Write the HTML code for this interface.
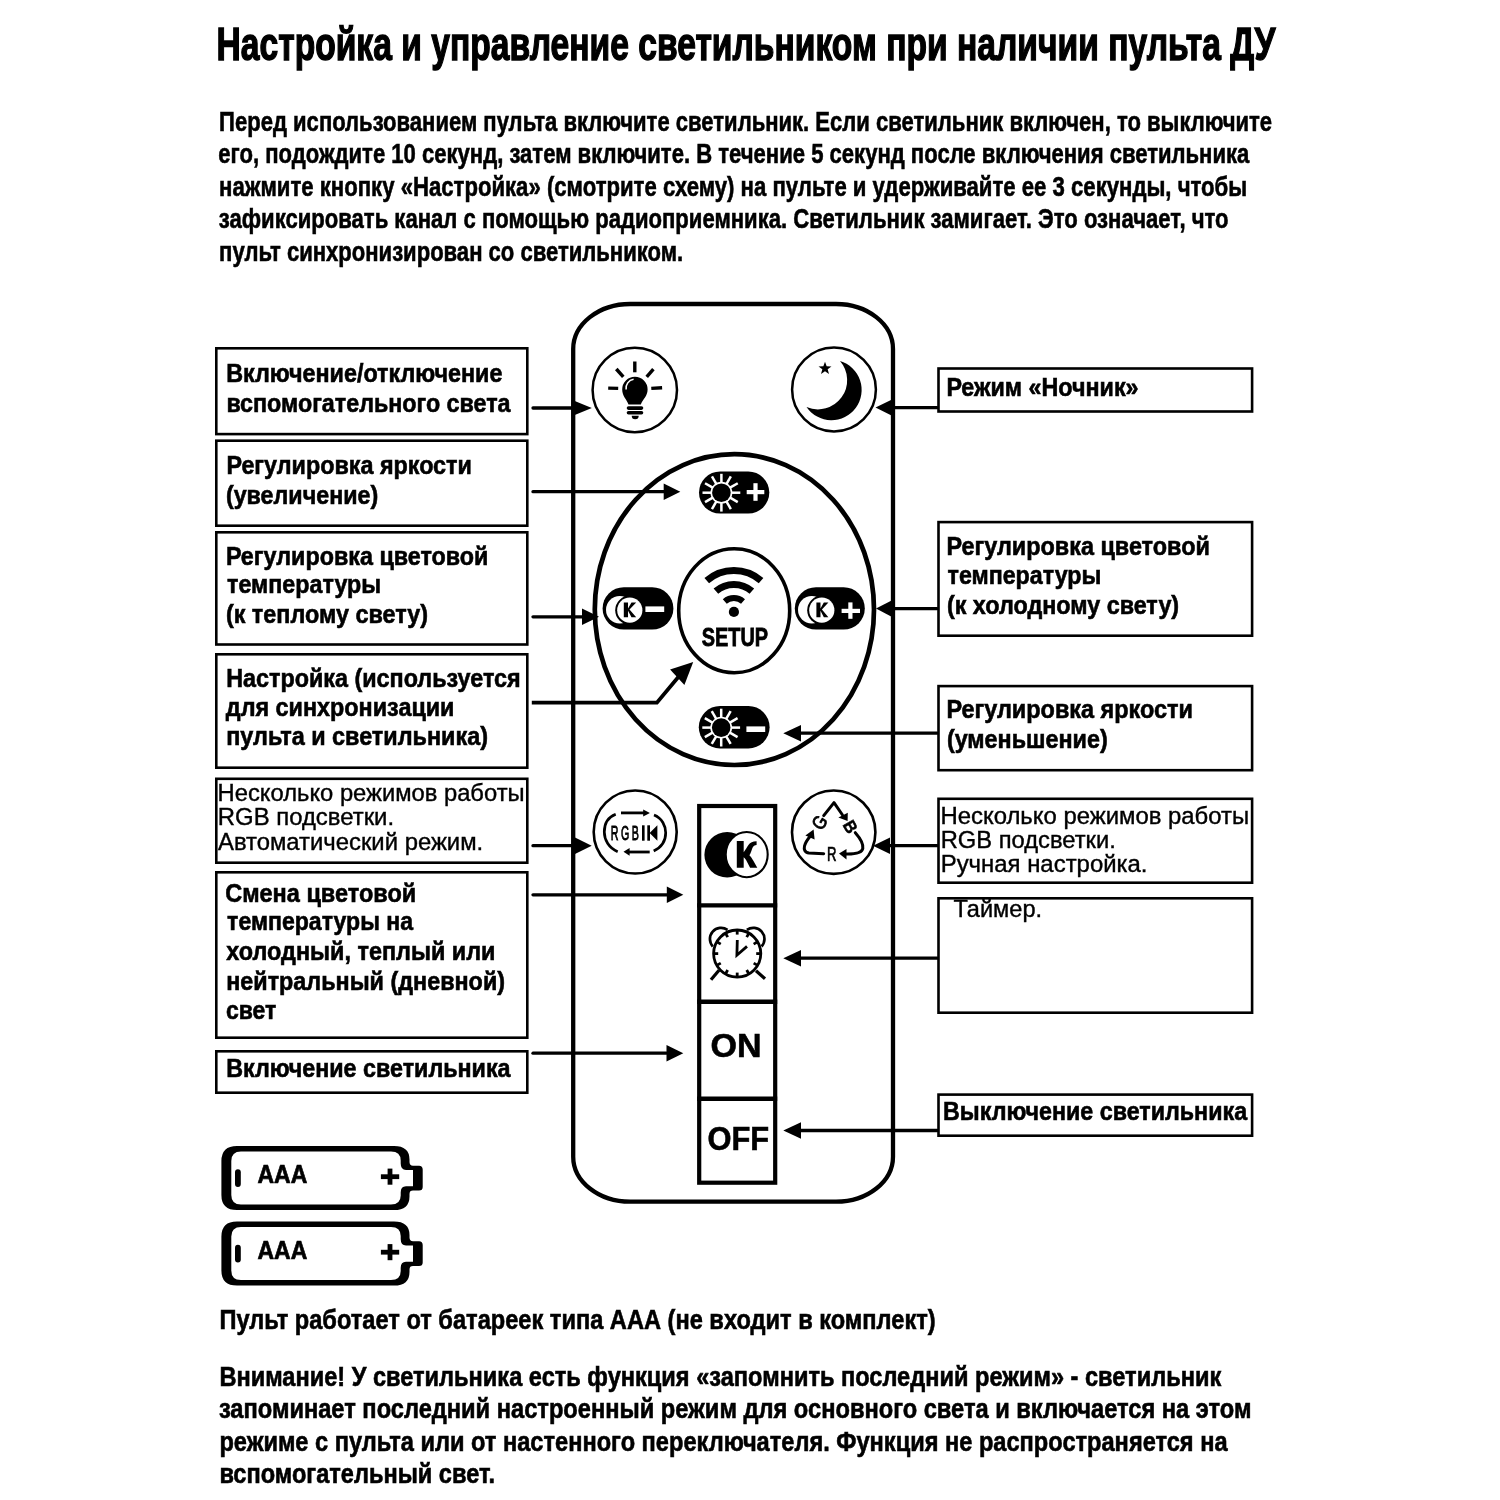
<!DOCTYPE html>
<html><head><meta charset="utf-8"><style>
html,body{margin:0;padding:0;background:#fff;}
svg{display:block;will-change:transform;}
text{font-family:"Liberation Sans",sans-serif;fill:#000;white-space:pre;}
</style></head><body>
<svg width="1500" height="1500" viewBox="0 0 1500 1500">
<rect x="0" y="0" width="1500" height="1500" fill="#fff"/>
<path d="M630.20,304.00 H836.00 A57,45 0 0 1 893.00,349.00 V1156.70 A57,45 0 0 1 836.00,1201.70 H630.20 A57,45 0 0 1 573.20,1156.70 V349.00 A57,45 0 0 1 630.20,304.00 Z" fill="none" stroke="#000" stroke-width="4.3"/>
<rect x="216.30" y="348.30" width="311.00" height="85.80" fill="none" stroke="#000" stroke-width="2.6"/>
<rect x="216.30" y="440.70" width="311.00" height="85.00" fill="none" stroke="#000" stroke-width="2.6"/>
<rect x="216.30" y="532.30" width="311.00" height="112.20" fill="none" stroke="#000" stroke-width="2.6"/>
<rect x="216.30" y="654.30" width="311.00" height="113.40" fill="none" stroke="#000" stroke-width="2.6"/>
<rect x="216.30" y="778.80" width="311.00" height="83.90" fill="none" stroke="#000" stroke-width="2.6"/>
<rect x="216.30" y="872.30" width="311.00" height="165.40" fill="none" stroke="#000" stroke-width="2.6"/>
<rect x="216.30" y="1051.30" width="311.00" height="41.40" fill="none" stroke="#000" stroke-width="2.6"/>
<rect x="938.50" y="368.50" width="313.60" height="43.00" fill="none" stroke="#000" stroke-width="2.6"/>
<rect x="938.50" y="522.10" width="313.60" height="113.60" fill="none" stroke="#000" stroke-width="2.6"/>
<rect x="938.50" y="686.10" width="313.60" height="84.10" fill="none" stroke="#000" stroke-width="2.6"/>
<rect x="938.50" y="798.80" width="313.60" height="83.90" fill="none" stroke="#000" stroke-width="2.6"/>
<rect x="938.50" y="898.30" width="313.60" height="114.40" fill="none" stroke="#000" stroke-width="2.6"/>
<rect x="938.50" y="1094.60" width="313.60" height="41.10" fill="none" stroke="#000" stroke-width="2.6"/>
<circle cx="634.8" cy="390.0" r="42.2" fill="none" stroke="#000" stroke-width="2.5"/>
<circle cx="834.0" cy="389.5" r="41.9" fill="none" stroke="#000" stroke-width="2.5"/>
<circle cx="635.2" cy="832.0" r="41.5" fill="none" stroke="#000" stroke-width="2.6"/>
<circle cx="833.7" cy="832.2" r="41.7" fill="none" stroke="#000" stroke-width="2.6"/>
<ellipse cx="734.4" cy="609.6" rx="139.6" ry="155.4" fill="none" stroke="#000" stroke-width="4.7"/>
<ellipse cx="734.2" cy="610.7" rx="55.5" ry="62.0" fill="none" stroke="#000" stroke-width="3.6"/>
<rect x="699.00" y="471.50" width="70.30" height="42.10" rx="21.05" ry="21.05" fill="#000"/>
<circle cx="721.40" cy="492.70" r="10.90" fill="#fff"/><circle cx="721.40" cy="492.70" r="9.30" fill="#000"/><line x1="721.40" y1="482.70" x2="721.40" y2="473.80" stroke="#fff" stroke-width="2.5"/><line x1="726.40" y1="484.04" x2="730.85" y2="476.33" stroke="#fff" stroke-width="2.5"/><line x1="730.06" y1="487.70" x2="737.77" y2="483.25" stroke="#fff" stroke-width="2.5"/><line x1="731.40" y1="492.70" x2="740.30" y2="492.70" stroke="#fff" stroke-width="2.5"/><line x1="730.06" y1="497.70" x2="737.77" y2="502.15" stroke="#fff" stroke-width="2.5"/><line x1="726.40" y1="501.36" x2="730.85" y2="509.07" stroke="#fff" stroke-width="2.5"/><line x1="721.40" y1="502.70" x2="721.40" y2="511.60" stroke="#fff" stroke-width="2.5"/><line x1="716.40" y1="501.36" x2="711.95" y2="509.07" stroke="#fff" stroke-width="2.5"/><line x1="712.74" y1="497.70" x2="705.03" y2="502.15" stroke="#fff" stroke-width="2.5"/><line x1="711.40" y1="492.70" x2="702.50" y2="492.70" stroke="#fff" stroke-width="2.5"/><line x1="712.74" y1="487.70" x2="705.03" y2="483.25" stroke="#fff" stroke-width="2.5"/><line x1="716.40" y1="484.04" x2="711.95" y2="476.33" stroke="#fff" stroke-width="2.5"/>
<rect x="746.7" y="490.0" width="17.6" height="4.2" fill="#fff"/><rect x="753.4" y="483.2" width="4.2" height="17.6" fill="#fff"/>
<rect x="698.80" y="706.00" width="70.80" height="42.40" rx="21.20" ry="21.20" fill="#000"/>
<circle cx="721.20" cy="727.60" r="10.90" fill="#fff"/><circle cx="721.20" cy="727.60" r="9.30" fill="#000"/><line x1="721.20" y1="717.60" x2="721.20" y2="708.70" stroke="#fff" stroke-width="2.5"/><line x1="726.20" y1="718.94" x2="730.65" y2="711.23" stroke="#fff" stroke-width="2.5"/><line x1="729.86" y1="722.60" x2="737.57" y2="718.15" stroke="#fff" stroke-width="2.5"/><line x1="731.20" y1="727.60" x2="740.10" y2="727.60" stroke="#fff" stroke-width="2.5"/><line x1="729.86" y1="732.60" x2="737.57" y2="737.05" stroke="#fff" stroke-width="2.5"/><line x1="726.20" y1="736.26" x2="730.65" y2="743.97" stroke="#fff" stroke-width="2.5"/><line x1="721.20" y1="737.60" x2="721.20" y2="746.50" stroke="#fff" stroke-width="2.5"/><line x1="716.20" y1="736.26" x2="711.75" y2="743.97" stroke="#fff" stroke-width="2.5"/><line x1="712.54" y1="732.60" x2="704.83" y2="737.05" stroke="#fff" stroke-width="2.5"/><line x1="711.20" y1="727.60" x2="702.30" y2="727.60" stroke="#fff" stroke-width="2.5"/><line x1="712.54" y1="722.60" x2="704.83" y2="718.15" stroke="#fff" stroke-width="2.5"/><line x1="716.20" y1="718.94" x2="711.75" y2="711.23" stroke="#fff" stroke-width="2.5"/>
<rect x="746.4" y="726.4" width="18.8" height="5.6" fill="#fff"/>
<rect x="602.60" y="587.20" width="70.80" height="42.40" rx="21.20" ry="21.20" fill="#000"/>
<circle cx="619.80" cy="609.80" r="13.8" fill="#fff"/><circle cx="629.80" cy="610.20" r="14.6" fill="#000"/><circle cx="629.80" cy="610.20" r="12.6" fill="#fff"/>
<polygon fill="#000" points="623.80,602.40 628.02,602.40 628.02,608.62 631.49,602.40 636.20,602.40 629.50,609.50 636.20,617.20 631.49,617.20 628.02,610.69 628.02,617.20 623.80,617.20"/>
<rect x="645.4" y="606.4" width="18.8" height="5.6" fill="#fff"/>
<rect x="794.80" y="587.20" width="70.00" height="42.40" rx="21.20" ry="21.20" fill="#000"/>
<circle cx="811.80" cy="609.80" r="13.8" fill="#fff"/><circle cx="821.80" cy="610.20" r="14.6" fill="#000"/><circle cx="821.80" cy="610.20" r="12.6" fill="#fff"/>
<polygon fill="#000" points="816.40,602.40 820.48,602.40 820.48,608.62 823.84,602.40 828.40,602.40 821.92,609.50 828.40,617.20 823.84,617.20 820.48,610.69 820.48,617.20 816.40,617.20"/>
<rect x="841.6" y="608.8" width="18.4" height="4.2" fill="#fff"/><rect x="848.3" y="602.4" width="4.2" height="16.4" fill="#fff"/>
<circle cx="733.9" cy="611.9" r="5.1" fill="#000"/>
<path d="M724.78,601.41 A13.9,13.9 0 0 1 743.02,601.41" fill="none" stroke="#000" stroke-width="6.0"/>
<path d="M715.92,591.22 A27.4,27.4 0 0 1 751.88,591.22" fill="none" stroke="#000" stroke-width="7.0"/>
<path d="M706.74,580.66 A41.4,41.4 0 0 1 761.06,580.66" fill="none" stroke="#000" stroke-width="7.0"/>
<rect x="699.2" y="806.0" width="76.0" height="376.7" fill="none" stroke="#000" stroke-width="4.2"/>
<line x1="697.2" y1="905.4" x2="777.2" y2="905.4" stroke="#000" stroke-width="4.4"/>
<line x1="697.2" y1="1001.8" x2="777.2" y2="1001.8" stroke="#000" stroke-width="4.4"/>
<line x1="697.2" y1="1098.7" x2="777.2" y2="1098.7" stroke="#000" stroke-width="4.4"/>
<circle cx="727.2" cy="854.8" r="22.8" fill="#000"/>
<ellipse cx="746.7" cy="854.6" rx="21.0" ry="22.6" fill="#fff" stroke="#000" stroke-width="2.1"/>
<path d="M736.8,841 H743.7 V852.3 C745.6,849.8 747,847 748.6,844.8 C750.2,842.6 752.6,841.2 756.6,841.2 V844.9 C754.6,844.9 753.3,846 752.4,848 C751.6,850 751,853.2 749.4,855.2 C751,856.6 752.2,858.6 753.2,860.6 L757.3,867.7 H750.1 L746.2,860.3 C745.4,858.8 744.6,857.8 743.7,857.3 V867.7 H736.8 Z" fill="#000"/>
<circle cx="737.2" cy="953.6" r="23.6" fill="none" stroke="#000" stroke-width="2.8"/>
<line x1="737.20" y1="934.60" x2="737.20" y2="930.00" stroke="#000" stroke-width="2.8"/>
<line x1="746.70" y1="937.15" x2="749.00" y2="933.16" stroke="#000" stroke-width="2.8"/>
<line x1="753.65" y1="944.10" x2="757.64" y2="941.80" stroke="#000" stroke-width="2.8"/>
<line x1="756.20" y1="953.60" x2="760.80" y2="953.60" stroke="#000" stroke-width="2.8"/>
<line x1="753.65" y1="963.10" x2="757.64" y2="965.40" stroke="#000" stroke-width="2.8"/>
<line x1="746.70" y1="970.05" x2="749.00" y2="974.04" stroke="#000" stroke-width="2.8"/>
<line x1="737.20" y1="972.60" x2="737.20" y2="977.20" stroke="#000" stroke-width="2.8"/>
<line x1="727.70" y1="970.05" x2="725.40" y2="974.04" stroke="#000" stroke-width="2.8"/>
<line x1="720.75" y1="963.10" x2="716.76" y2="965.40" stroke="#000" stroke-width="2.8"/>
<line x1="718.20" y1="953.60" x2="713.60" y2="953.60" stroke="#000" stroke-width="2.8"/>
<line x1="720.75" y1="944.10" x2="716.76" y2="941.80" stroke="#000" stroke-width="2.8"/>
<line x1="727.70" y1="937.15" x2="725.40" y2="933.16" stroke="#000" stroke-width="2.8"/>
<polyline points="737.3,940 736.9,955.2 747,946.4" fill="none" stroke="#000" stroke-width="2.8"/>
<path d="M712.8,946.5 A11.2,11.2 0 0 1 727.5,929.8" fill="none" stroke="#000" stroke-width="2.7"/>
<path d="M746.9,929.8 A11.2,11.2 0 0 1 761.6,946.5" fill="none" stroke="#000" stroke-width="2.7"/>
<line x1="719" y1="970.2" x2="711" y2="979.8" stroke="#000" stroke-width="3.2"/>
<line x1="756" y1="970.8" x2="765" y2="978.8" stroke="#000" stroke-width="3.2"/>
<path d="M622.2,389.5 A12.7,12.7 0 1 1 647.6,389.5 C647.6,396 643,399 640.8,404.5 L628.5,404.5 C626.5,399 622.2,396 622.2,389.5 Z" fill="#000"/>
<path d="M626.1,389.5 A9,9 0 0 1 633.6,379.3" fill="none" stroke="#fff" stroke-width="1.6"/>
<line x1="628.5" y1="408.1" x2="641.5" y2="408.1" stroke="#000" stroke-width="3.6" stroke-linecap="round"/>
<line x1="628.5" y1="412.8" x2="641.5" y2="412.8" stroke="#000" stroke-width="3.6" stroke-linecap="round"/>
<path d="M631.7,415.7 H638.7 A3.5,3.5 0 0 1 631.7,415.7 Z" fill="#000"/>
<line x1="634.8" y1="361.5" x2="634.8" y2="372.3" stroke="#000" stroke-width="3.4"/>
<line x1="616.3" y1="369.0" x2="623.3" y2="376.9" stroke="#000" stroke-width="3.4"/>
<line x1="653.4" y1="369.2" x2="646.7" y2="376.9" stroke="#000" stroke-width="3.4"/>
<line x1="608.2" y1="388.1" x2="618.2" y2="388.4" stroke="#000" stroke-width="3.4"/>
<line x1="651.3" y1="388.4" x2="662.1" y2="387.7" stroke="#000" stroke-width="3.4"/>
<path d="M840,361 A30.2,30.2 0 1 1 806.5,407 A29.2,29.2 0 0 0 840,361 Z" fill="#000"/>
<polygon fill="#000" points="825.00,361.70 826.65,366.23 831.47,366.40 827.66,369.37 829.00,374.00 825.00,371.30 821.00,374.00 822.34,369.37 818.53,366.40 823.35,366.23"/>
<line x1="533.00" y1="408.00" x2="571.70" y2="408.00" stroke="#000" stroke-width="3.3" stroke-linecap="round"/><polygon points="591.80,408.00 571.70,399.80 571.70,416.20" fill="#000"/>
<line x1="533.00" y1="491.70" x2="663.70" y2="491.70" stroke="#000" stroke-width="3.3" stroke-linecap="round"/><polygon points="680.30,491.70 663.70,483.50 663.70,499.90" fill="#000"/>
<line x1="533.00" y1="616.80" x2="582.00" y2="616.80" stroke="#000" stroke-width="3.3" stroke-linecap="round"/><polygon points="599.00,616.80 582.00,608.60 582.00,625.00" fill="#000"/>
<line x1="533.00" y1="845.70" x2="575.00" y2="845.70" stroke="#000" stroke-width="3.3" stroke-linecap="round"/><polygon points="591.70,845.70 575.00,837.50 575.00,853.90" fill="#000"/>
<line x1="533.00" y1="894.80" x2="666.80" y2="894.80" stroke="#000" stroke-width="3.3" stroke-linecap="round"/><polygon points="683.30,894.80 666.80,886.60 666.80,903.00" fill="#000"/>
<line x1="533.00" y1="1053.20" x2="666.50" y2="1053.20" stroke="#000" stroke-width="3.3" stroke-linecap="round"/><polygon points="683.30,1053.20 666.50,1045.00 666.50,1061.40" fill="#000"/>
<polyline points="531.8,702.6 656.9,702.6 680,675" fill="none" stroke="#000" stroke-width="3.8"/>
<polygon points="693.2,661.9 670.1,669.6 684.4,685" fill="#000"/>
<line x1="937.20" y1="407.60" x2="892.00" y2="407.60" stroke="#000" stroke-width="3.3" stroke-linecap="round"/><polygon points="875.50,407.60 892.00,399.40 892.00,415.80" fill="#000"/>
<line x1="937.20" y1="608.60" x2="891.60" y2="608.60" stroke="#000" stroke-width="3.3" stroke-linecap="round"/><polygon points="876.00,608.60 891.60,600.40 891.60,616.80" fill="#000"/>
<line x1="937.20" y1="733.20" x2="801.00" y2="733.20" stroke="#000" stroke-width="3.3" stroke-linecap="round"/><polygon points="783.30,733.20 801.00,725.00 801.00,741.40" fill="#000"/>
<line x1="937.20" y1="845.70" x2="890.00" y2="845.70" stroke="#000" stroke-width="3.3" stroke-linecap="round"/><polygon points="873.00,845.70 890.00,837.50 890.00,853.90" fill="#000"/>
<line x1="937.20" y1="958.20" x2="801.00" y2="958.20" stroke="#000" stroke-width="3.3" stroke-linecap="round"/><polygon points="783.30,958.20 801.00,950.00 801.00,966.40" fill="#000"/>
<line x1="937.20" y1="1130.50" x2="801.00" y2="1130.50" stroke="#000" stroke-width="3.3" stroke-linecap="round"/><polygon points="783.30,1130.50 801.00,1122.30 801.00,1138.70" fill="#000"/>
<path d="M615.7,814.3 C606,818 604.3,826 604.3,832 C604.3,840 609,848 617.7,851.7" fill="none" stroke="#000" stroke-width="2.7"/>
<path d="M654,815 C662,818 665.7,826 665.7,832.7 C665.7,840 662,847 653.7,851" fill="none" stroke="#000" stroke-width="2.7"/>
<line x1="621" y1="812.9" x2="644" y2="812.9" stroke="#000" stroke-width="2.8"/>
<polygon points="649.9,813 643.2,809.6 643.2,816.5" fill="#000"/>
<line x1="629" y1="852" x2="649.7" y2="852" stroke="#000" stroke-width="2.8"/>
<polygon points="623.5,851.8 629.6,847.9 629.6,855.7" fill="#000"/>
<g transform="translate(610.8,839.6) scale(0.52,1)"><text x="0 19.8 40.2" y="0" font-size="20.5" font-weight="normal" stroke="#000" stroke-width="0.9">RGB</text></g>
<rect x="642" y="825.3" width="2.6" height="15.4" fill="#000"/>
<rect x="647.3" y="825.3" width="2.7" height="15.4" fill="#000"/>
<polygon points="649.6,833 657.4,825.3 657.4,840.7" fill="#000"/>
<polyline points="823.7,815.6 834,802.6 842.5,815" fill="none" stroke="#000" stroke-width="3.0" stroke-linejoin="round" stroke-linecap="round"/>
<polygon points="847.6,821 838.4,817.6 847.8,812.8" fill="#000"/>
<path d="M855.3,832.7 C860,838 863.5,844 862.8,848.5 C862,853 856,854.2 846,854" fill="none" stroke="#000" stroke-width="3.0" stroke-linecap="round"/>
<polygon points="839,853.6 846.5,849 846.5,859.4" fill="#000"/>
<path d="M823.7,853.7 L809,853 C804.5,852.6 803.8,849 804.5,846 C805.5,842 807.5,839.5 810,836.5" fill="none" stroke="#000" stroke-width="3.0" stroke-linecap="round"/>
<polygon points="813.6,829.4 805.4,835.6 814.6,839.4" fill="#000"/>
<text x="827" y="860.7" font-size="20" font-weight="normal" textLength="9.5" lengthAdjust="spacingAndGlyphs" stroke="#000" stroke-width="0.7">R</text>
<g transform="translate(819.4,822.4) rotate(-58)"><text x="-6.3" y="6.6" font-size="19" font-weight="normal" textLength="12.6" lengthAdjust="spacingAndGlyphs" stroke="#000" stroke-width="0.9">G</text></g>
<g transform="translate(850.5,826.6) rotate(60)"><text x="-5.8" y="6.3" font-size="17.5" font-weight="bold" textLength="11.6" lengthAdjust="spacingAndGlyphs" stroke="#000" stroke-width="0.5">B</text></g>
<g transform="translate(0,0)"><path d="M237,1145.9 H394 Q409.5,1145.9 409.5,1159.5 V1162 Q409.5,1165.7 413,1165.7 H419 Q422.7,1165.7 422.7,1169.5 V1187 Q422.7,1190.6 419,1190.6 H413 Q409.5,1190.6 409.5,1194 V1196.5 Q409.5,1210.1 394,1210.1 H237 Q221.4,1210.1 221.4,1195 V1161 Q221.4,1145.9 237,1145.9 Z M241,1151.4 H391 Q400.7,1151.4 400.7,1160.5 V1163.5 Q400.7,1170 406,1170 H413 V1186.2 H406 Q400.7,1186.2 400.7,1192.5 V1195.5 Q400.7,1204.5 391,1204.5 H241 Q231.3,1204.5 231.3,1195 V1161 Q231.3,1151.4 241,1151.4 Z" fill="#000" fill-rule="evenodd"/><rect x="235" y="1169.3" width="5.8" height="17.7" rx="2.9" fill="#000"/><rect x="380.9" y="1174.3" width="18.3" height="4.8" fill="#000"/><rect x="387.6" y="1168.6" width="4.8" height="16.1" fill="#000"/></g>
<g transform="translate(0,75.5)"><path d="M237,1145.9 H394 Q409.5,1145.9 409.5,1159.5 V1162 Q409.5,1165.7 413,1165.7 H419 Q422.7,1165.7 422.7,1169.5 V1187 Q422.7,1190.6 419,1190.6 H413 Q409.5,1190.6 409.5,1194 V1196.5 Q409.5,1210.1 394,1210.1 H237 Q221.4,1210.1 221.4,1195 V1161 Q221.4,1145.9 237,1145.9 Z M241,1151.4 H391 Q400.7,1151.4 400.7,1160.5 V1163.5 Q400.7,1170 406,1170 H413 V1186.2 H406 Q400.7,1186.2 400.7,1192.5 V1195.5 Q400.7,1204.5 391,1204.5 H241 Q231.3,1204.5 231.3,1195 V1161 Q231.3,1151.4 241,1151.4 Z" fill="#000" fill-rule="evenodd"/><rect x="235" y="1169.3" width="5.8" height="17.7" rx="2.9" fill="#000"/><rect x="380.9" y="1174.3" width="18.3" height="4.8" fill="#000"/><rect x="387.6" y="1168.6" width="4.8" height="16.1" fill="#000"/></g>
<text x="216.53" y="60.10" font-size="46.50" font-weight="bold" textLength="1058.99" lengthAdjust="spacingAndGlyphs" stroke="#000" stroke-width="1.4">Настройка и управление светильником при наличии пульта ДУ</text>
<text x="219.11" y="130.50" font-size="27.90" font-weight="bold" textLength="1052.99" lengthAdjust="spacingAndGlyphs" stroke="#000" stroke-width="0.6">Перед использованием пульта включите светильник. Если светильник включен, то выключите</text>
<text x="218.31" y="163.20" font-size="27.90" font-weight="bold" textLength="1031.00" lengthAdjust="spacingAndGlyphs" stroke="#000" stroke-width="0.6">его, подождите 10 секунд, затем включите. В течение 5 секунд после включения светильника</text>
<text x="219.11" y="195.50" font-size="27.90" font-weight="bold" textLength="1028.04" lengthAdjust="spacingAndGlyphs" stroke="#000" stroke-width="0.6">нажмите кнопку «Настройка» (смотрите схему) на пульте и удерживайте ее 3 секунды, чтобы</text>
<text x="218.80" y="228.30" font-size="27.90" font-weight="bold" textLength="1009.72" lengthAdjust="spacingAndGlyphs" stroke="#000" stroke-width="0.6">зафиксировать канал с помощью радиоприемника. Светильник замигает. Это означает, что</text>
<text x="219.11" y="260.70" font-size="27.90" font-weight="bold" textLength="463.97" lengthAdjust="spacingAndGlyphs" stroke="#000" stroke-width="0.6">пульт синхронизирован со светильником.</text>
<text x="226.19" y="381.90" font-size="25.80" font-weight="bold" textLength="276.22" lengthAdjust="spacingAndGlyphs" stroke="#000" stroke-width="0.6">Включение/отключение</text>
<text x="226.40" y="411.50" font-size="25.80" font-weight="bold" textLength="284.11" lengthAdjust="spacingAndGlyphs" stroke="#000" stroke-width="0.6">вспомогательного света</text>
<text x="226.40" y="473.90" font-size="25.80" font-weight="bold" textLength="245.48" lengthAdjust="spacingAndGlyphs" stroke="#000" stroke-width="0.6">Регулировка яркости</text>
<text x="225.90" y="504.20" font-size="25.80" font-weight="bold" textLength="152.34" lengthAdjust="spacingAndGlyphs" stroke="#000" stroke-width="0.6">(увеличение)</text>
<text x="225.90" y="564.90" font-size="25.80" font-weight="bold" textLength="262.58" lengthAdjust="spacingAndGlyphs" stroke="#000" stroke-width="0.6">Регулировка цветовой</text>
<text x="227.10" y="593.10" font-size="25.80" font-weight="bold" textLength="154.03" lengthAdjust="spacingAndGlyphs" stroke="#000" stroke-width="0.6">температуры</text>
<text x="225.89" y="623.20" font-size="25.80" font-weight="bold" textLength="202.14" lengthAdjust="spacingAndGlyphs" stroke="#000" stroke-width="0.6">(к теплому свету)</text>
<text x="226.20" y="687.00" font-size="25.80" font-weight="bold" textLength="294.46" lengthAdjust="spacingAndGlyphs" stroke="#000" stroke-width="0.6">Настройка (используется</text>
<text x="225.80" y="716.20" font-size="25.80" font-weight="bold" textLength="228.68" lengthAdjust="spacingAndGlyphs" stroke="#000" stroke-width="0.6">для синхронизации</text>
<text x="226.19" y="745.20" font-size="25.80" font-weight="bold" textLength="261.74" lengthAdjust="spacingAndGlyphs" stroke="#000" stroke-width="0.6">пульта и светильника)</text>
<text x="217.61" y="800.80" font-size="24.10" font-weight="normal" textLength="306.98" lengthAdjust="spacingAndGlyphs" stroke="#000" stroke-width="0.4">Несколько режимов работы</text>
<text x="217.81" y="825.10" font-size="24.10" font-weight="normal" textLength="176.27" lengthAdjust="spacingAndGlyphs" stroke="#000" stroke-width="0.4">RGB подсветки.</text>
<text x="218.00" y="849.50" font-size="24.10" font-weight="normal" textLength="265.18" lengthAdjust="spacingAndGlyphs" stroke="#000" stroke-width="0.4">Автоматический режим.</text>
<text x="225.19" y="901.70" font-size="25.80" font-weight="bold" textLength="190.99" lengthAdjust="spacingAndGlyphs" stroke="#000" stroke-width="0.6">Смена цветовой</text>
<text x="227.10" y="930.30" font-size="25.80" font-weight="bold" textLength="186.02" lengthAdjust="spacingAndGlyphs" stroke="#000" stroke-width="0.6">температуры на</text>
<text x="226.30" y="960.00" font-size="25.80" font-weight="bold" textLength="269.18" lengthAdjust="spacingAndGlyphs" stroke="#000" stroke-width="0.6">холодный, теплый или</text>
<text x="226.19" y="989.70" font-size="25.80" font-weight="bold" textLength="278.84" lengthAdjust="spacingAndGlyphs" stroke="#000" stroke-width="0.6">нейтральный (дневной)</text>
<text x="225.91" y="1019.40" font-size="25.80" font-weight="bold" textLength="50.36" lengthAdjust="spacingAndGlyphs" stroke="#000" stroke-width="0.6">свет</text>
<text x="226.20" y="1076.70" font-size="25.80" font-weight="bold" textLength="284.31" lengthAdjust="spacingAndGlyphs" stroke="#000" stroke-width="0.6">Включение светильника</text>
<text x="946.40" y="396.00" font-size="25.80" font-weight="bold" textLength="192.12" lengthAdjust="spacingAndGlyphs" stroke="#000" stroke-width="0.6">Режим «Ночник»</text>
<text x="946.39" y="554.70" font-size="25.80" font-weight="bold" textLength="263.49" lengthAdjust="spacingAndGlyphs" stroke="#000" stroke-width="0.6">Регулировка цветовой</text>
<text x="947.50" y="584.10" font-size="25.80" font-weight="bold" textLength="153.83" lengthAdjust="spacingAndGlyphs" stroke="#000" stroke-width="0.6">температуры</text>
<text x="946.90" y="613.60" font-size="25.80" font-weight="bold" textLength="232.24" lengthAdjust="spacingAndGlyphs" stroke="#000" stroke-width="0.6">(к холодному свету)</text>
<text x="946.39" y="718.40" font-size="25.80" font-weight="bold" textLength="246.59" lengthAdjust="spacingAndGlyphs" stroke="#000" stroke-width="0.6">Регулировка яркости</text>
<text x="946.89" y="747.90" font-size="25.80" font-weight="bold" textLength="160.84" lengthAdjust="spacingAndGlyphs" stroke="#000" stroke-width="0.6">(уменьшение)</text>
<text x="940.51" y="823.80" font-size="24.10" font-weight="normal" textLength="308.60" lengthAdjust="spacingAndGlyphs" stroke="#000" stroke-width="0.4">Несколько режимов работы</text>
<text x="940.72" y="847.80" font-size="24.10" font-weight="normal" textLength="175.05" lengthAdjust="spacingAndGlyphs" stroke="#000" stroke-width="0.4">RGB подсветки.</text>
<text x="940.71" y="871.80" font-size="24.10" font-weight="normal" textLength="206.77" lengthAdjust="spacingAndGlyphs" stroke="#000" stroke-width="0.4">Ручная настройка.</text>
<text x="953.50" y="917.20" font-size="24.10" font-weight="normal" textLength="88.56" lengthAdjust="spacingAndGlyphs" stroke="#000" stroke-width="0.4">Таймер.</text>
<text x="943.00" y="1120.00" font-size="25.80" font-weight="bold" textLength="304.11" lengthAdjust="spacingAndGlyphs" stroke="#000" stroke-width="0.6">Выключение светильника</text>
<text x="219.44" y="1328.60" font-size="27.30" font-weight="bold" textLength="716.21" lengthAdjust="spacingAndGlyphs" stroke="#000" stroke-width="0.6">Пульт работает от батареек типа ААА (не входит в комплект)</text>
<text x="219.42" y="1385.50" font-size="26.90" font-weight="bold" textLength="1001.80" lengthAdjust="spacingAndGlyphs" stroke="#000" stroke-width="0.6">Внимание! У светильника есть функция «запомнить последний режим» - светильник</text>
<text x="218.90" y="1418.20" font-size="26.90" font-weight="bold" textLength="1032.58" lengthAdjust="spacingAndGlyphs" stroke="#000" stroke-width="0.6">запоминает последний настроенный режим для основного света и включается на этом</text>
<text x="219.42" y="1450.70" font-size="26.90" font-weight="bold" textLength="1008.16" lengthAdjust="spacingAndGlyphs" stroke="#000" stroke-width="0.6">режиме с пульта или от настенного переключателя. Функция не распространяется на</text>
<text x="219.42" y="1483.20" font-size="26.90" font-weight="bold" textLength="275.57" lengthAdjust="spacingAndGlyphs" stroke="#000" stroke-width="0.6">вспомогательный свет.</text>
<text x="701.70" y="645.60" font-size="25.44" font-weight="bold" textLength="66.37" lengthAdjust="spacingAndGlyphs" stroke="#000" stroke-width="0.8">SETUP</text>
<text x="710.57" y="1057.00" font-size="32.99" font-weight="bold" textLength="51.01" lengthAdjust="spacingAndGlyphs" stroke="#000" stroke-width="0.6">ON</text>
<text x="707.39" y="1149.70" font-size="34.01" font-weight="bold" textLength="61.71" lengthAdjust="spacingAndGlyphs" stroke="#000" stroke-width="0.6">OFF</text>
<text x="257.55" y="1183.35" font-size="25.15" font-weight="bold" textLength="49.73" lengthAdjust="spacingAndGlyphs" stroke="#000" stroke-width="0.7">AAA</text>
<text x="257.55" y="1258.85" font-size="25.15" font-weight="bold" textLength="49.73" lengthAdjust="spacingAndGlyphs" stroke="#000" stroke-width="0.7">AAA</text>
</svg>
</body></html>
